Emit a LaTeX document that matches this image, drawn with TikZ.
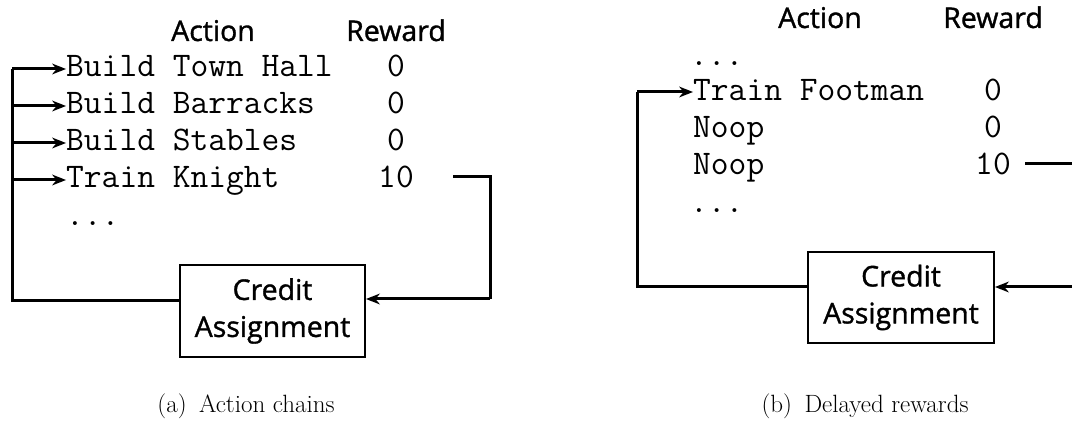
\documentclass[tikz,border=0pt]{standalone}
\usepackage{fontspec}
\newfontfamily\headfont{Open Sans}[FakeBold=1.2]
\usetikzlibrary{arrows.meta}
\tikzset{
  mono/.style={font=\ttfamily\fontsize{34.5}{37}\selectfont, inner sep=0pt, anchor=base west},
  rew/.style={font=\ttfamily\fontsize{34.5}{37}\selectfont, inner sep=0pt, anchor=base},
  head/.style={font=\headfont\fontsize{28.5}{37}\selectfont, inner sep=0pt, anchor=base},
  cabox/.style={draw, line width=2pt, font=\headfont\fontsize{28.5}{37}\selectfont, align=center, inner sep=0pt},
  subcap/.style={font=\rmfamily\fontsize{25}{28}\selectfont, inner sep=0pt, anchor=base},
  wire/.style={line width=3pt},
  arr/.style={line width=3pt, -{Stealth[length=14pt,width=11pt,line width=0pt]}}
}
\begin{document}
\begin{tikzpicture}[x=1pt,y=-1pt]
\useasboundingbox (0,0) rectangle (1072,422);

% ---------- (a) Action chains ----------
\node[head] (hActA) at (213,41) {Action};
\node[head] (hRewA) at (396,41) {Reward};
\node[mono] (a1) at (66,77)  {Build Town Hall};
\node[mono] (a2) at (66,114) {Build Barracks};
\node[mono] (a3) at (66,151) {Build Stables};
\node[mono] (a4) at (66,188) {Train Knight};
\node[mono] (a5) at (66,226) {...};
\node[rew] (r1) at (396,77)  {0};
\node[rew] (r2) at (396,114) {0};
\node[rew] (r3) at (396,151) {0};
\node[rew] (r4) at (396,188) {10};
\node[cabox, minimum width=185pt, minimum height=92pt] (caA) at (272.5,311) {Credit\\Assignment};

\coordinate (a10s) at (453,177);
\coordinate (a10c) at (490,177);
\coordinate (a10d) at (490,299);
\coordinate (aLin) at (caA.west |- 0,301);
\coordinate (aCor) at (12,301);
\coordinate (aTop) at (12,69);

\draw[wire] (a10s) -- (a10c) -- (a10d);
\draw[arr] (a10d) -- (caA.east |- a10d);
\draw[wire] (aLin) -- (aCor) -- (aTop);
\foreach \n in {a1,a2,a3,a4}{
  \coordinate (\n tip) at ([yshift=8pt]\n.base west);
  \draw[arr] (aTop |- \n tip) -- (\n tip);
}

\node[subcap] (capA) at (246,412) {(a)\enspace Action chains};

% ---------- (b) Delayed rewards ----------
\node[head] (hActB) at (820,28) {Action};
\node[head] (hRewB) at (993,28) {Reward};
\node[mono] (b0) at (690,66)  {...};
\node[mono] (b1) at (693,101) {Train Footman};
\node[mono] (b2) at (693,138) {Noop};
\node[mono] (b3) at (693,175) {Noop};
\node[mono] (b4) at (690,213) {...};
\node[rew] (s1) at (993,101) {0};
\node[rew] (s2) at (993,138) {0};
\node[rew] (s3) at (993,175) {10};
\node[cabox, minimum width=186pt, minimum height=91pt] (caB) at (901,297.5) {Credit\\Assignment};

\coordinate (b10s) at (1025,164);
\coordinate (b10e) at (1072,164);
\coordinate (bIn)  at (1072,287);
\coordinate (bLin) at (caB.west |- 0,287);
\coordinate (bCor) at (637,287);
\coordinate (bTop) at (637,92);

\draw[wire] (b10s) -- (b10e);
\draw[arr] (bIn) -- (caB.east |- bIn);
\draw[wire] (bLin) -- (bCor) -- (bTop);
\draw[arr] (bTop) -- (b1.west |- bTop);

\node[subcap] (capB) at (865,412) {(b)\enspace Delayed rewards};
\end{tikzpicture}
\end{document}
